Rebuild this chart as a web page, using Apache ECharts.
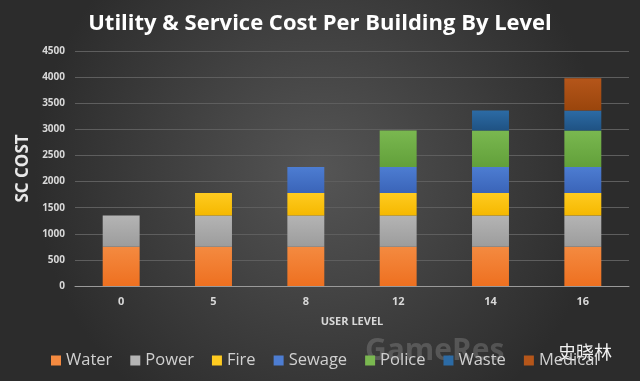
<!DOCTYPE html>
<html><head><meta charset="utf-8">
<script src="https://cdn.jsdelivr.net/npm/echarts@6/dist/echarts.min.js"></script>
<style>html,body{margin:0;padding:0;background:#333;}#c{width:640px;height:381px;}</style>
</head><body><div id="c"></div>
<script>
const categories = ['0','5','8','12','14','16'];
const seriesNames = ['Water','Power','Fire','Sewage','Police','Waste','Medical'];
const water   = [750, 750, 750, 750, 750, 750];
const power   = [600, 600, 600, 600, 600, 600];
const fire    = [null, 430, 430, 430, 430, 430];
const sewage  = [null, null, 500, 500, 500, 500];
const police  = [null, null, null, 700, 700, 700];
const waste   = [null, null, null, null, 380, 380];
const medical = [null, null, null, null, null, 620];
const yTicks = [0,500,1000,1500,2000,2500,3000,3500,4000,4500];

const colors = [
  ['#F48A40','#EE7020'],
  ['#B4B4B4','#9C9C9C'],
  ['#FFCB20','#F5B800'],
  ['#4D7DD2','#3A64B8'],
  ['#7AB850','#62A03A'],
  ['#2C6BA5','#1F5283'],
  ['#B5561A','#9A450C']
];
const data = [water,power,fire,sewage,police,waste,medical];

const chart = echarts.init(document.getElementById('c'));
chart.setOption({
  backgroundColor: new echarts.graphic.RadialGradient(0.5,0.45,0.75,[
    {offset:0,color:'#555555'},{offset:1,color:'#2c2c2c'}]),
  animation:false,
  title:{text:'Utility & Service Cost Per Building By Level',left:'center',top:8,
    textStyle:{color:'#ffffff',fontSize:22,fontWeight:'bold',fontFamily:'Open Sans'}},
  grid:{left:75,right:11,top:51,bottom:95},
  legend:{data:seriesNames.map((n,i)=>({name:n,itemStyle:{color:colors[i][0]}})),
    left:46,top:347,itemWidth:10,itemHeight:10,icon:'rect',itemGap:18,
    textStyle:{color:'#d0d0d0',fontSize:16.5,fontFamily:'Open Sans'}},
  xAxis:{type:'category',data:categories,name:'USER LEVEL',nameLocation:'middle',nameGap:30,
    nameTextStyle:{color:'#d8d8d8',fontSize:11,fontWeight:'bold',fontFamily:'Open Sans'},
    axisLine:{lineStyle:{color:'#9a9a9a',width:1}},axisTick:{show:false},
    axisLabel:{color:'#d8d8d8',fontSize:11,fontWeight:'bold',margin:10,fontFamily:'Open Sans'}},
  yAxis:{type:'value',min:0,max:4500,interval:500,name:'SC COST',nameLocation:'middle',nameGap:31,
    nameTextStyle:{color:'#e8e8e8',fontSize:17,fontWeight:'bold',fontFamily:'Open Sans'},
    axisLabel:{color:'#d8d8d8',fontSize:10,fontWeight:'bold',margin:10,fontFamily:'Open Sans',
      formatter:v=>yTicks.includes(v)?String(v):''},
    splitLine:{lineStyle:{color:'#5e5e5e',width:1}},axisLine:{show:false},axisTick:{show:false}},
  series:data.map((d,i)=>({
    name:seriesNames[i],type:'bar',stack:'total',data:d,barWidth:'40%',
    itemStyle:{color:new echarts.graphic.LinearGradient(0,0,0,1,[
      {offset:0,color:colors[i][0]},{offset:1,color:colors[i][1]}])}
  })),
  graphic:[
    {type:'text',left:365,top:336,style:{text:'GameRes',fill:'rgba(150,150,150,0.35)',fontSize:30,fontWeight:'bold',fontFamily:'Open Sans'}},
    {type:'text',left:558,top:343,style:{text:'史晓林',fill:'#f2f2f2',fontSize:18,fontFamily:'Noto Sans CJK SC'}}
  ]
});
</script></body></html>
